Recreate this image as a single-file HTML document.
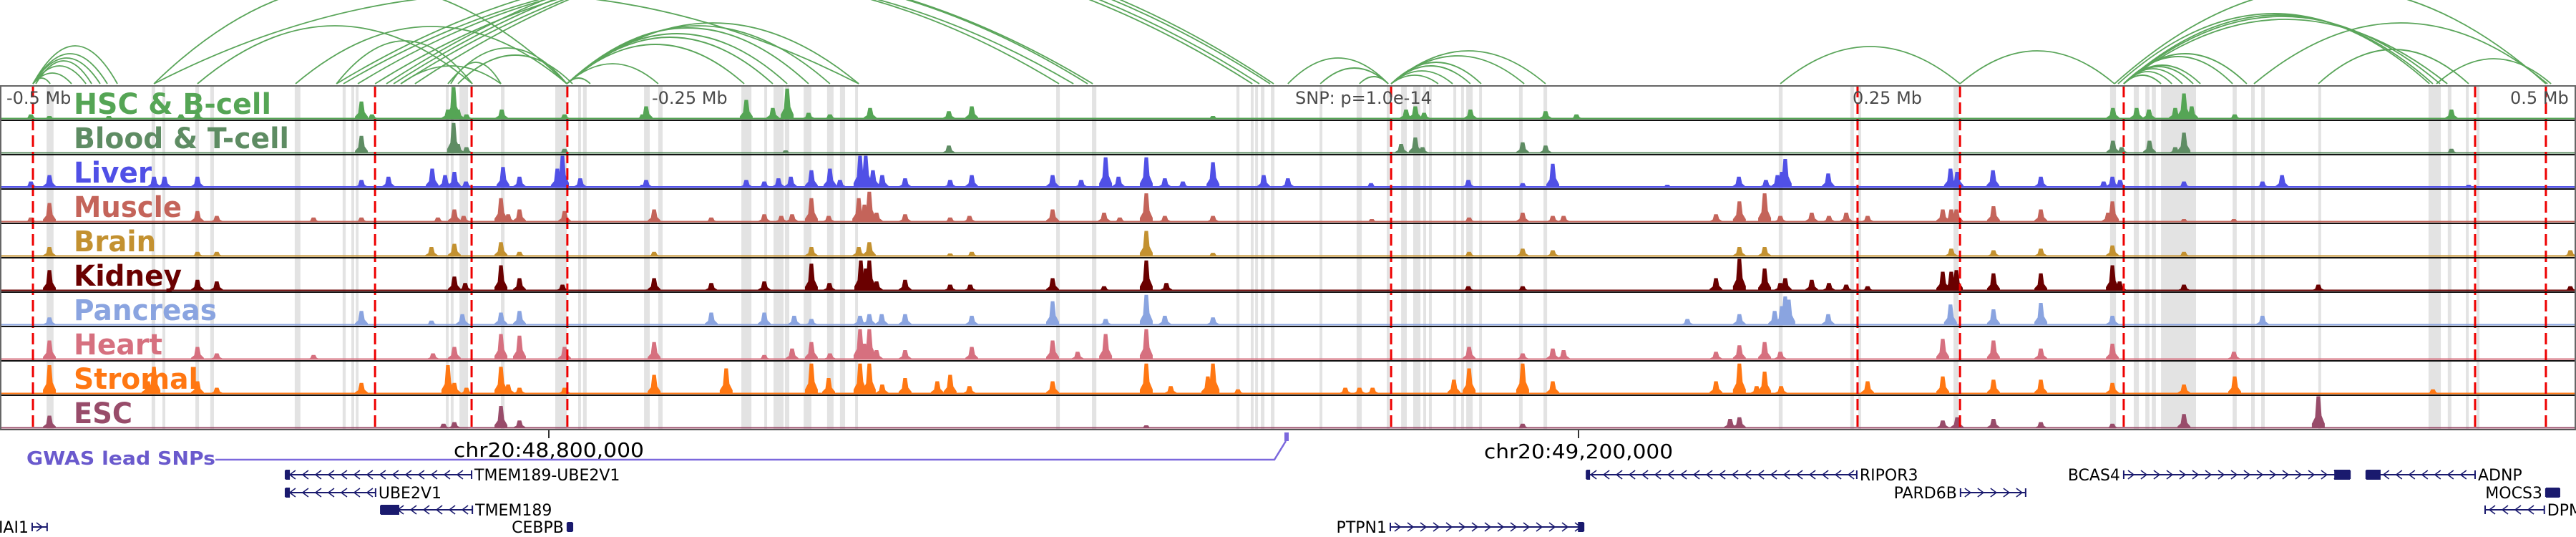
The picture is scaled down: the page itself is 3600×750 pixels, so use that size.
<!DOCTYPE html>
<html><head><meta charset="utf-8"><style>
html,body{margin:0;padding:0;background:#fff;}
svg{display:block;font-family:"DejaVu Sans","Liberation Sans",sans-serif;}
</style></head><body>
<svg id="chart" width="3600" height="750" viewBox="0 0 3600 750" xmlns="http://www.w3.org/2000/svg">
<g id="gray"></g>
<g id="arcs"></g>
<g id="tracks"></g>
<g id="reds"></g>
<g id="frame"></g>
<g id="labels"></g>
<g id="genes"></g>
<text x="9" y="145" font-size="24" fill="#4a4a4a">-0.5 Mb</text>
<text x="911" y="145" font-size="24" fill="#4a4a4a">-0.25 Mb</text>
<text x="1810" y="145" font-size="24" fill="#4a4a4a">SNP: p=1.0e-14</text>
<text x="2589" y="145" font-size="24" fill="#4a4a4a">0.25 Mb</text>
<text x="3508" y="145" font-size="24" fill="#4a4a4a">0.5 Mb</text>
<line x1="767" y1="601" x2="767" y2="612" stroke="#333" stroke-width="2"/>
<line x1="2206" y1="601" x2="2206" y2="612" stroke="#333" stroke-width="2"/>
<text x="634" y="638" font-size="28" fill="#000" textLength="266" lengthAdjust="spacingAndGlyphs">chr20:48,800,000</text>
<text x="2074" y="640" font-size="28" fill="#000" textLength="264" lengthAdjust="spacingAndGlyphs">chr20:49,200,000</text>
<text x="37" y="649" font-size="26" font-weight="bold" fill="#6a5acd" textLength="264" lengthAdjust="spacingAndGlyphs">GWAS lead SNPs</text>
<polyline points="301,642 1781,642 1797,616" fill="none" stroke="#7b68dd" stroke-width="2.5"/>
<rect x="1795" y="604" width="6" height="12" fill="#7b68dd"/>
</svg>
<script>
// ---- data ----
const windowKb = 1000.7;
const trackNames = ["HSC & B-cell","Blood & T-cell","Liver","Muscle","Brain","Kidney","Pancreas","Heart","Stromal","ESC"];
const trackColors = ["#55a555","#5e8c63","#5050e6","#c4645a","#c39130","#6a0000","#8aa4e0","#d6707f","#ff7712","#984c6a"];
const labelWidths = [276,301,109,151,115,151,200,124,174,82];
const baselineLevels = [2,2,2.5,2,2,2,2,2,2,2];
const snpLinesKb = [12.8,145.7,183.2,220.4,540.4,721.6,761.4,825.0,961.5,989.0];
const grayStartKb = [18.1,58.9,63.1,75.9,81.7,114.5,133.1,136.5,138.2,173.2,175.1,178.5,194.6,215.7,224.6,226.5,250.2,255.7,288.0,296.9,300.5,304.9,312.2,321.3,326.3,332.2,410.3,424.2,480.3,485.9,487.6,489.8,493.7,512.6,527.0,538.7,544.3,549.0,552.9,555.1,564.6,567.6,569.6,574.6,590.1,599.6,691.0,718.8,721.9,758.9,819.7,828.9,833.4,835.9,839.5,867.3,874.5,878.4,900.6,943.4,950.9,957.9,962.1];
const grayEndKb   = [20.8,60.3,64.2,77.3,83.1,116.7,134.3,137.6,139.3,174.3,176.2,181.8,196.0,220.2,225.7,227.9,252.4,257.4,291.9,298.0,304.4,306.6,315.2,323.8,328.3,333.3,411.7,425.9,481.5,487.0,488.7,491.2,495.1,513.7,529.0,539.8,546.5,551.8,554.0,556.2,565.7,568.7,572.1,575.7,591.5,601.0,692.5,720.2,723.0,760.8,822.0,830.9,835.0,837.5,853.1,868.9,875.9,879.8,901.7,948.2,952.3,959.0,963.2];

const hscPos = [12.0,19.2,42.3,70.3,76.7,140.4,144.5,174.0,176.2,177.9,181.2,194.9,219.3,249.6,251.0,289.9,300.2,305.8,314.1,322.4,338.0,368.6,377.5,471.2,546.2,549.8,553.2,571.2,600.4,612.4,820.8,830.0,834.8,845.0,848.4,851.4,868.1,952.3];
const hscVal = [15,10,10,15,20,55,15,30,100,30,15,30,15,15,40,60,35,95,20,15,35,25,40,10,30,40,20,30,25,15,35,35,30,35,80,40,15,30];
const bloodPos = [140.4,176.2,177.9,181.2,219.3,305.2,368.6,544.3,549.8,552.6,591.5,600.4,820.8,824.2,835.0,845.0,848.4,952.3];
const bloodVal = [55,95,30,20,15,10,25,30,50,20,35,25,40,20,40,20,65,15];
const liverPos = [12.0,19.2,59.8,63.9,76.7,140.4,150.9,167.9,172.9,176.5,181.0,195.4,201.8,216.5,218.5,225.4,249.6,251.0,289.9,296.9,302.4,307.2,315.2,322.4,326.3,334.1,336.3,339.1,342.7,351.6,369.1,377.5,408.9,420.0,429.5,434.5,445.3,452.5,459.5,471.2,490.9,500.3,532.6,570.4,591.5,603.2,647.7,675.5,686.0,690.5,692.2,693.5,710.2,757.7,760.3,774.2,792.8,817.2,820.6,823.6,848.4,878.9,886.5,959.0];
const liverVal = [20,40,35,35,35,25,35,60,40,50,20,65,35,60,100,30,10,25,25,20,30,35,55,60,25,100,100,55,40,30,25,40,40,25,95,35,95,30,20,80,40,30,15,25,15,75,10,35,25,40,50,90,45,60,50,55,35,20,35,25,20,20,40,10];
const musclePos = [12.0,19.2,76.7,84.2,121.8,140.4,170.1,176.5,180.1,194.6,197.4,201.8,219.3,254.1,276.3,296.9,303.5,307.7,315.2,321.9,333.6,335.8,337.7,340.5,351.6,369.1,376.6,408.9,428.9,435.0,445.3,452.5,471.2,532.9,570.7,591.5,603.2,607.4,666.6,675.7,685.5,691.6,703.8,710.5,717.2,725.5,754.7,758.0,760.0,774.4,792.8,818.9,820.6,848.4,867.8];
const muscleVal = [15,60,35,20,15,15,15,40,20,75,25,40,35,40,15,25,20,25,75,20,75,55,95,30,25,15,20,40,30,15,90,20,20,10,15,30,20,20,25,65,90,20,30,20,30,20,40,40,40,50,40,30,65,10,10];
const brainPos = [19.2,76.7,84.2,167.6,176.5,194.6,201.8,254.1,315.2,333.6,337.7,369.1,377.5,445.3,471.2,570.7,591.5,603.2,675.7,685.5,758.0,774.4,792.8,820.6,848.4,998.5];
const brainVal = [30,15,15,30,40,45,15,15,30,30,45,10,15,80,12,15,25,20,30,30,25,20,25,35,15,20];
const kidneyPos = [19.2,76.7,84.2,176.5,180.7,194.6,201.8,218.5,254.1,276.3,296.9,315.2,322.2,334.4,336.3,337.7,340.5,351.6,369.1,376.9,408.9,428.9,445.3,453.1,570.4,591.5,666.6,675.7,685.5,691.6,693.5,703.8,710.5,717.2,725.5,754.7,758.0,760.0,774.4,792.8,820.6,823.4,848.4,900.6,998.5];
const kidneyVal = [65,35,30,45,25,80,40,20,40,25,30,85,25,95,70,95,30,35,20,20,40,15,95,25,15,15,40,100,70,25,40,35,25,20,15,60,60,65,55,55,80,30,20,20,15];
const pancreasPos = [19.2,140.4,167.6,179.6,194.6,201.8,276.3,296.9,308.5,315.2,334.1,337.7,342.5,351.6,377.5,408.9,429.5,445.3,452.5,471.2,655.5,675.7,689.4,692.2,693.5,694.9,710.2,757.7,774.4,792.8,820.6,878.9];
const pancreasVal = [25,45,15,35,40,45,40,40,30,20,30,35,35,35,30,75,20,95,30,25,20,35,45,60,90,80,35,65,50,70,30,30];
const heartPos = [19.2,76.7,84.2,121.8,168.2,176.5,194.6,201.8,219.3,254.1,296.9,307.7,315.2,322.4,334.1,335.8,337.7,340.5,351.6,377.5,408.9,418.6,429.5,445.3,570.7,591.5,603.2,607.4,666.6,675.7,685.5,691.6,754.7,774.4,792.8,820.6,867.8];
const heartVal = [60,40,20,15,20,40,80,75,40,55,15,35,55,20,95,50,95,30,30,40,60,25,80,95,40,20,35,30,25,45,55,25,65,60,35,50,25];
const stromalPos = [19.2,57.5,59.8,76.7,84.2,140.4,174.0,176.5,181.2,194.6,197.4,201.8,219.3,254.1,282.1,315.2,321.9,334.1,337.7,342.7,351.6,364.1,369.1,376.6,408.9,445.3,454.8,469.2,471.2,480.9,522.6,528.1,533.2,564.8,570.7,591.5,603.2,666.6,675.7,682.4,685.5,691.9,725.5,754.7,774.4,792.8,820.6,848.4,868.1,945.1];
const stromalVal = [90,40,85,40,20,35,90,35,20,85,30,20,20,60,80,95,50,95,95,30,50,40,60,25,40,95,25,55,95,15,20,20,20,45,80,95,40,40,95,25,70,25,40,55,45,45,35,30,55,15];
const escPos = [19.2,172.3,176.5,194.6,201.8,445.3,591.5,672.1,675.7,754.7,760.3,774.4,792.8,820.6,848.4,900.6];
const escVal = [40,15,20,70,25,10,15,30,35,25,35,30,20,15,45,100];
const peakPositions = [hscPos,bloodPos,liverPos,musclePos,brainPos,kidneyPos,pancreasPos,heartPos,stromalPos,escPos];
const peakValues = [hscVal,bloodVal,liverVal,muscleVal,brainVal,kidneyVal,pancreasVal,heartVal,stromalVal,escVal];

const arcStartKb = [12.8,12.8,12.8,12.8,12.8,12.8,13.9,76.7,59.8,59.8,114.8,130.7,175.1,174.0,177.9,155.7,220.2,220.2,220.2,220.2,220.2,220.2,220.2,220.2,130.7,133.4,139.0,145.7,150.1,152.9,155.7,161.2,500.3,512.9,528.1,540.4,540.4,540.4,540.4,540.4,540.4,691.6,761.4,825.0,825.0,825.0,825.0,825.0,825.0,825.0,825.0,825.0,825.0,822.8,821.4,875.6,900.6,946.5];
const arcEndKb   = [45.6,41.7,38.9,33.4,27.8,19.5,35.6,183.5,220.2,333.6,220.2,183.5,194.6,220.2,222.4,194.6,289.1,300.2,305.8,314.1,322.4,333.6,229.3,255.7,424.5,417.0,411.4,422.5,493.4,489.2,486.5,494.8,539.3,539.3,539.3,600.4,592.1,575.4,571.2,564.3,558.7,761.4,821.4,839.5,843.7,847.8,852.0,854.8,867.3,872.8,945.1,947.9,950.7,943.8,989.0,989.6,959.0,991.0];
const arcHeights = [53,42,36,25,15,8,32,81,140,126,80,60,30,50,40,25,55,65,70,78,81,85,8,28,160,150,150,155,200,195,190,200,36,22,10,46,39,30,25,18,12,52,46,12,17,21,24,26,38,42,96,94,90,98,135,85,48,35];

const geneNames = ["TMEM189-UBE2V1","UBE2V1","TMEM189","CEBPB","IAI1","PTPN1","RIPOR3","PARD6B","BCAS4","ADNP","MOCS3","DPM1"];
const geneStartKb = [110.9,110.9,147.9,220.4,12.5,540.1,616.3,761.6,825.0,919.2,989.0,965.4];
const geneEndKb   = [183.2,145.9,183.5,222.4,18.3,615.2,721.3,786.9,912.9,961.5,994.3,988.4];
const geneStrand  = ["-","-","-","+","+","+","-","+","+","-","+","-"];
const geneRow     = [0,1,2,3,3,3,0,1,0,0,1,2];
const geneLabelSide = ["right","right","right","left","left","left","right","left","left","right","left","right"];
const geneThickStartKb = [110.9,110.9,147.9,220.4,null,613.0,616.3,null,906.8,919.2,989.0,null];
const geneThickEndKb   = [112.6,112.6,155.1,222.4,null,615.2,617.5,null,912.9,924.8,994.3,null];

// ---- scales ----
const W = 3600;
const x = kb => kb / windowKb * W;
const trackTop = 120, trackH = 48, nTracks = 10;
const maxBar = 45;
const yVal = (i, v) => trackTop + trackH*(i+1) - 1.5 - v/100*maxBar;
const arcBase = 117;
const NS = "http://www.w3.org/2000/svg";
function mk(tag, attrs, parent){ const e=document.createElementNS(NS,tag); for(const k in attrs) e.setAttribute(k,attrs[k]); parent.appendChild(e); return e; }

const gG = document.getElementById('gray');
grayStartKb.forEach((s,k)=>{
  const r = mk('rect',{x:x(s),y:trackTop,width:Math.max(2,x(grayEndKb[k])-x(s)),height:trackH*nTracks,fill:'#e3e3e3'},gG);
  
  
});

const gA = document.getElementById('arcs');
arcStartKb.forEach((s,k)=>{
  const x1=x(s), x2=x(arcEndKb[k]), h=arcHeights[k];
  const p = mk('path',{d:`M${x1},${arcBase} Q${(x1+x2)/2},${arcBase-2*h} ${x2},${arcBase}`,fill:'none',stroke:'#5aa55a','stroke-width':1.8},gA);
  
  
});

const gT = document.getElementById('tracks');
for(let i=0;i<nTracks;i++){
  const g = mk('g',{},gT);
  
  
  const bottom = trackTop + trackH*(i+1) - 1.5;
  const base = mk('rect',{x:0,y:bottom-baselineLevels[i],width:W,height:baselineLevels[i],fill:trackColors[i]},g);
  
  
  peakPositions[i].forEach((pos,k)=>{
    const cx = x(pos), top = yVal(i, peakValues[i][k]), hh = bottom-top;
    const d = `M${cx-9},${bottom} L${cx-9},${bottom-0.15*hh} L${cx-4.5},${bottom-0.35*hh} L${cx-2.5},${top} L${cx+2.5},${top} L${cx+4.5},${bottom-0.4*hh} L${cx+9},${bottom-0.15*hh} L${cx+9},${bottom} Z`;
    const p = mk('path',{d:d,fill:trackColors[i]},g);
    
    
  });
}

const gR = document.getElementById('reds');
snpLinesKb.forEach(s=>{
  const l = mk('line',{x1:x(s),x2:x(s),y1:trackTop,y2:trackTop+trackH*nTracks,stroke:'#ee0000','stroke-width':3,'stroke-dasharray':'16,7'},gR);
  
  
});

const gF = document.getElementById('frame');
const topLine = mk('line',{x1:0,x2:W,y1:trackTop,y2:trackTop,stroke:'#666','stroke-width':2},gF);


for(let i=0;i<nTracks;i++){
  const yb = trackTop+trackH*(i+1);
  const l = mk('line',{x1:0,x2:W,y1:yb,y2:yb,stroke:i==nTracks-1?'#555':'#111','stroke-width':2},gF);
  
  
}
const lb = mk('line',{x1:1,x2:1,y1:trackTop,y2:trackTop+trackH*nTracks,stroke:'#666','stroke-width':2},gF);


const rb = mk('line',{x1:W-1,x2:W-1,y1:trackTop,y2:trackTop+trackH*nTracks,stroke:'#666','stroke-width':2},gF);



const gL = document.getElementById('labels');
trackNames.forEach((n,i)=>{
  const t = mk('text',{x:103,y:trackTop+trackH*i+39,'font-size':40,'font-weight':'bold',fill:trackColors[i],textLength:labelWidths[i],lengthAdjust:'spacingAndGlyphs'},gL);
  t.textContent = n;
  
  
});

const gGe = document.getElementById('genes');
const rowY = [663,688,712,736];
geneNames.forEach((n,k)=>{
  const g = mk('g',{},gGe);
  
  
  const y = rowY[geneRow[k]], x1 = x(geneStartKb[k]), x2 = x(geneEndKb[k]);
  mk('line',{x1:x1,x2:x2,y1:y,y2:y,stroke:'#1a1a6e','stroke-width':2},g);
  mk('line',{x1:x1,x2:x1,y1:y-6,y2:y+6,stroke:'#1a1a6e','stroke-width':2},g);
  mk('line',{x1:x2,x2:x2,y1:y-6,y2:y+6,stroke:'#1a1a6e','stroke-width':2},g);
  const dir = geneStrand[k]==='+'?1:-1;
  for(let cx=x1+10; cx<x2-6; cx+=18){
    mk('polyline',{points:`${cx-4*dir},${y-6} ${cx+4*dir},${y} ${cx-4*dir},${y+6}`,fill:'none',stroke:'#1a1a6e','stroke-width':1.6},g);
  }
  if(geneThickStartKb[k]!==null){
    const t1=x(geneThickStartKb[k]), t2=x(geneThickEndKb[k]);
    mk('rect',{x:t1,y:y-7,width:Math.max(5,t2-t1),height:14,fill:'#1a1a6e'},g);
  }
  const right = geneLabelSide[k]==='right';
  const t = mk('text',{x:right?x2+4:x1-5,y:y+8,'font-size':22,fill:'#000','text-anchor':right?'start':'end'},g);
  t.textContent = n;
  
  
});
</script>
</body></html>
